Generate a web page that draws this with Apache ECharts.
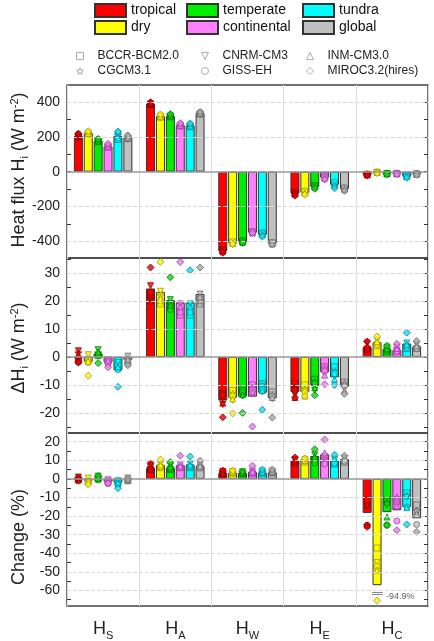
<!DOCTYPE html>
<html>
<head>
<meta charset="utf-8">
<script src="https://cdn.jsdelivr.net/npm/echarts@6/dist/echarts.min.js"></script>
<style>html,body{margin:0;padding:0;background:#fff}#chart{width:434px;height:641px}</style>
</head>
<body>
<div id="chart"></div>
<script>
var categories = ['S', 'A', 'W', 'E', 'C'];
var climates = ['tropical', 'dry', 'temperate', 'continental', 'tundra', 'global'];
var models = ['BCCR-BCM2.0', 'CGCM3.1', 'CNRM-CM3', 'GISS-EH', 'INM-CM3.0', 'MIROC3.2(hires)'];

// panel 1: heat flux (W m-2), one value per category
var fluxTropical = [205, 390, -455, -125, -18];
var fluxDry = [222, 318, -410, -120, -5];
var fluxTemperate = [178, 320, -402, -88, -12];
var fluxContinental = [145, 268, -350, -35, -12];
var fluxTundra = [205, 265, -362, -75, -28];
var fluxGlobal = [197, 335, -412, -100, -14];

// panel 2: delta H (W m-2)
var dhTropical = [-0.5, 24.5, -15.6, -12.5, 3.5];
var dhDry = [-1.7, 23.3, -14.6, -12.5, 5.3];
var dhTemperate = [1.2, 20.3, -14.2, -10.3, 2.8];
var dhContinental = [-1.9, 19.5, -14.2, -5.5, 2.5];
var dhTundra = [-4.8, 19.5, -12.8, -7.3, 4.8];
var dhGlobal = [-1.0, 22.5, -14.8, -10.6, 3.7];

// panel 3: change (%)
var pctTropical = [0, 6, 3.2, 9.8, -18.3];
var pctDry = [-1, 7.5, 3.4, 10.3, -57.2];
var pctTemperate = [0.5, 6, 3.2, 12.3, -17.9];
var pctContinental = [-1.5, 7.3, 3.7, 13.2, -16.9];
var pctTundra = [-2, 7.7, 3.4, 9.8, -15.1];
var pctGlobal = [-0.5, 6.8, 3.6, 10.7, -21.2];

// model values: per category, one value per climate (tropical..global)
var fluxBCCR = [[200, 215, 172, 140, 185, 190], [385, 312, 315, 262, 258, 330], [-450, -405, -398, -345, -355, -408], [-120, -115, -80, -30, -70, -95], [-15, -3, -10, -10, -25, -12]];
var fluxCGCM = [[210, 225, 180, 150, 210, 200], [392, 320, 322, 270, 268, 336], [-458, -412, -404, -352, -362, -414], [-128, -122, -88, -38, -80, -102], [-18, -5, -12, -12, -28, -14]];
var fluxCNRM = [[195, 210, 170, 142, 200, 185], [388, 310, 318, 260, 255, 328], [-462, -418, -410, -355, -368, -420], [-132, -128, -92, -42, -88, -108], [-20, -6, -14, -14, -32, -16]];
var fluxGISS = [[215, 228, 185, 152, 225, 205], [395, 325, 326, 274, 272, 340], [-448, -400, -395, -342, -350, -405], [-118, -110, -78, -28, -60, -92], [-14, -2, -9, -9, -22, -11]];
var fluxINM = [[205, 220, 176, 146, 195, 195], [390, 316, 320, 266, 262, 334], [-455, -410, -402, -348, -360, -412], [-125, -120, -85, -35, -75, -100], [-17, -4, -11, -11, -26, -13]];
var fluxMIROC = [[218, 232, 188, 160, 230, 208], [398, 328, 330, 278, 276, 342], [-465, -415, -408, -352, -372, -418], [-138, -132, -98, -45, -95, -110], [-22, -8, -16, -16, -35, -18]];

var dhBCCR = [[-1.0, -1.0, 0.5, -1.5, -3.0, -1.5], [22, 19, 18, 15, 15, 19], [-13, -12, -12, -10, -9.5, -12.5], [-9.5, -10, -8, -3.5, -3.5, -9], [2.5, 4, 2, 2, 3, 3]];
var dhCGCM = [[1.5, -0.5, 1.5, -2.0, -4.0, -0.5], [21, 22, 19, 17, 17, 20], [-14, -13, -13, -11, -10, -13.5], [-11, -11.5, -9, -4, -5, -9.5], [3.5, 5, 3, 3, 4, 3.5]];
var dhCNRM = [[2.2, 0.8, 2.6, -1.0, -2.0, 0.3], [25.5, 23.5, 20.5, 19, 19, 22.5], [-17, -15.5, -14, -13, -12.5, -15], [-13.5, -13.5, -12, -6, -7, -11], [5, 6, 3.5, 3.5, 5, 4.5]];
var dhGISS = [[-1.8, -2.0, 0.8, -2.5, -4.5, -2.5], [23, 20, 17, 16, 16, 21], [-13.5, -14, -12.5, -12, -11.5, -14], [-12, -12.5, -9.5, -5, -6, -10.5], [3, 4.5, 2.5, 2, 3.5, 3]];
var dhINM = [[0.5, -1.5, 1.8, -1.2, -3.5, -1.0], [20, 21, 18.5, 18, 18, 21.5], [-16.5, -15, -13.5, -12.5, -12, -14.5], [-14.5, -14, -11, -6.5, -8, -12], [4, 5.5, 3, 3, 4.5, 4]];
var dhMIROC = [[-2.0, -6.7, -2.2, -3.7, -10.7, -3.0], [32, 34, 28.5, 34, 31, 32], [-21.6, -20.2, -20, -24.9, -18.9, -21.7], [-14.5, -14, -13.7, -9.8, -10, -13.2], [5.5, 7.3, 4, 4.7, 8.7, 5.7]];

var pctBCCR = [[-0.5, -1.5, 0, -1, -1.5, -1], [5, 6, 5, 6, 6, 6], [2.8, 3, 2.8, 3, 3, 3.2], [8.5, 9, 10, 9, 8, 9], [-11.5, -37.2, -12, -12, -7.5, -14]];
var pctCGCM = [[0.5, -0.5, 1, -2, -2.5, 0], [6, 7, 6, 6.5, 7, 6.5], [3.2, 3.4, 3.2, 3.5, 3.4, 3.6], [9.5, 10, 11, 11, 9.5, 10], [-25, -48, -12.5, -10, -9, -17]];
var pctCNRM = [[1, 0.5, 1.5, -0.5, -1, 0.5], [7.5, 8, 7, 7.5, 8, 7.5], [4, 4, 3.8, 4.2, 4.2, 4.2], [10.5, 10.5, 13, 12, 10.5, 11], [-15, -45, -14, -14, -10, -18]];
var pctGISS = [[-1, -2, -0.5, -2.5, -3, -1], [5.5, 6.5, 5.5, 6, 6.5, 6], [3, 3.2, 3, 3.4, 3.2, 3.4], [9, 9.5, 8.5, 8, 8.5, 9.5], [-25, -47, -24.9, -22.6, -15, -24.5]];
var pctINM = [[0.5, -1, 0.5, -1.5, -2, -0.5], [7, 7.5, 6.5, 7, 7.5, 7], [3.5, 3.8, 3.5, 3.8, 3.8, 4], [10, 10, 12, 14, 11, 11.5], [-14, -49, -20.5, -14.5, -15.5, -19]];
var pctMIROC = [[0.5, -3, 1.5, -2.5, -5, 0], [8.1, 10.4, 9, 12.5, 12, 9.8], [4.5, 4.5, 4, 7.1, 5, 5], [11.5, 11, 15.9, 21.2, 13, 12.5], [-25.8, -94.9, -24.9, -27.6, -24.5, -28.5]];

// tick labels
var fluxLabels = [-400, -200, 0, 200, 400];
var fluxTicks = [-400, -300, -200, -100, 0, 100, 200, 300, 400];
var dhLabels = [-20, -10, 0, 10, 20, 30];
var dhTicks = [-25, -20, -15, -10, -5, 0, 5, 10, 15, 20, 25, 30, 35];
var pctLabels = [-60, -50, -40, -30, -20, -10, 0, 10, 20];
var pctTicks = [-65, -60, -55, -50, -45, -40, -35, -30, -25, -20, -15, -10, -5, 0, 5, 10, 15, 20];

var FONT = 'Liberation Sans, Arial, sans-serif';
var barColors = ['#ff0000', '#ffff00', '#00ee00', '#ff80ff', '#00ffff', '#c0c0c0'];
var markFill = ['#e00000', '#f8f020', '#18d018', '#e080e0', '#20d4e4', '#a8a8a8'];
var markEdge = ['#8a0000', '#a09800', '#007a00', '#a040a0', '#008a9a', '#6a6a6a'];
var starPath = 'path://M0,-10L2.35,-3.24L9.51,-3.09L3.8,1.24L5.88,8.09L0,4L-5.88,8.09L-3.8,1.24L-9.51,-3.09L-2.35,-3.24Z';
var symbols = ['rect', starPath, 'path://M-1,-1L1,-1L0,1Z', 'circle', 'triangle', 'diamond'];

var barW = 9, barGapPx = 0.9, catW = (434 - 67 - 6) / 5;
var step = (barW + barGapPx) / catW;

var panels = [
    {top: 85, height: 173, min: -495, max: 497, labels: fluxLabels, ticks: fluxTicks,
     bars: [fluxTropical, fluxDry, fluxTemperate, fluxContinental, fluxTundra, fluxGlobal],
     models: [fluxBCCR, fluxCGCM, fluxCNRM, fluxGISS, fluxINM, fluxMIROC]},
    {top: 258, height: 175, min: -27.2, max: 35.4, labels: dhLabels, ticks: dhTicks,
     bars: [dhTropical, dhDry, dhTemperate, dhContinental, dhTundra, dhGlobal],
     models: [dhBCCR, dhCGCM, dhCNRM, dhGISS, dhINM, dhMIROC]},
    {top: 433, height: 174, min: -68.4, max: 24.7, labels: pctLabels, ticks: pctTicks, breakAt: -65.5,
     bars: [pctTropical, pctDry, pctTemperate, pctContinental, pctTundra, pctGlobal],
     models: [pctBCCR, pctCGCM, pctCNRM, pctGISS, pctINM, pctMIROC]}
];

var grid = [], xAxis = [], yAxis = [], series = [];

panels.forEach(function (p, i) {
    grid.push({left: 67, right: 6, top: p.top, height: p.height, show: true,
        borderColor: '#444', borderWidth: 1.5, backgroundColor: 'transparent'});
    xAxis.push({
        type: 'category', gridIndex: i, data: categories,
        axisLine: {show: false, onZero: false}, axisTick: {show: false},
        axisLabel: i === 2 ? {
            margin: 12, interval: 0,
            formatter: function (v) { return '{h|H}{s|' + v + '}'; },
            rich: {
                h: {fontSize: 18, fontFamily: FONT, color: '#222'},
                s: {fontSize: 11, fontFamily: FONT, color: '#222', padding: [12, 0, 0, 0]}
            }
        } : {show: false},
        splitLine: {show: true, interval: 0, lineStyle: {color: '#dcdcdc', width: 1}}
    });
    xAxis.push({type: 'value', gridIndex: i, min: -0.5, max: 4.5, show: false, axisLine: {onZero: false}});
    yAxis.push({
        type: 'value', gridIndex: i, min: p.min, max: p.max,
        axisLine: {show: false, onZero: false}, splitLine: {show: false},
        axisTick: {show: true, inside: true, length: 4, customValues: p.ticks, lineStyle: {color: '#333'}},
        axisLabel: {customValues: p.labels, fontSize: 14, color: '#222', fontFamily: FONT, margin: 7}
    });
    yAxis.push({
        type: 'value', gridIndex: i, position: 'right', min: p.min, max: p.max,
        axisLine: {show: false, onZero: false}, splitLine: {show: false}, axisLabel: {show: false},
        axisTick: {show: true, inside: true, length: 4, customValues: p.ticks, lineStyle: {color: '#333'}}
    });

    // grid lines and zero line
    series.push({
        type: 'line', xAxisIndex: 2 * i, yAxisIndex: 2 * i, data: [], silent: true, z: 1,
        markLine: {
            silent: true, symbol: 'none', label: {show: false}, animation: false,
            data: p.labels.map(function (v) {
                return {yAxis: v, lineStyle: v === 0 ?
                    {type: 'solid', color: '#999', width: 1.5} :
                    {type: 'dashed', color: '#d8d8d8', width: 1}};
            })
        }
    });

    p.bars.forEach(function (vals, k) {
        series.push({
            type: 'bar', name: climates[k], xAxisIndex: 2 * i, yAxisIndex: 2 * i,
            data: vals, barWidth: barW, barGap: '10%', z: 2,
            itemStyle: {color: barColors[k], borderColor: '#333', borderWidth: 1}
        });
    });

    p.models.forEach(function (byCat, m) {
        var data = [];
        var breakLines = [];
        byCat.forEach(function (vals, c) {
            vals.forEach(function (v, k) {
                var x = c + (k - 2.5) * step;
                var item = {
                    value: [x, v],
                    itemStyle: {
                        color: m === 5 ? markFill[k] : barColors[k],
                        borderColor: markEdge[k], borderWidth: 1
                    }
                };
                if (p.breakAt !== undefined && v < p.min) {
                    item.value = [x, p.breakAt];
                    item.label = {show: true, position: 'right', offset: [0, -4],
                        formatter: v + '%', fontSize: 9, color: '#333', fontFamily: FONT};
                    breakLines.push([{coord: [x - 0.07, p.breakAt + 3.2]}, {coord: [x + 0.08, p.breakAt + 3.2]}]);
                    breakLines.push([{coord: [x - 0.07, p.breakAt + 4.4]}, {coord: [x + 0.08, p.breakAt + 4.4]}]);
                }
                data.push(item);
            });
        });
        var s = {
            type: 'scatter', name: models[m], xAxisIndex: 2 * i + 1, yAxisIndex: 2 * i,
            symbol: symbols[m], symbolSize: m === 5 ? 7 : (m === 1 ? 7 : 6), z: 3, data: data
        };
        if (breakLines.length) {
            s.markLine = {silent: true, symbol: 'none', label: {show: false},
                lineStyle: {type: 'solid', color: '#888', width: 1}, data: breakLines};
        }
        series.push(s);
    });
});

var legendText = {fontSize: 14, fontFamily: FONT, color: '#111'};
var modelText = {fontSize: 12, fontFamily: FONT, color: '#222', padding: [0, 0, 0, 9]};
function climateLegend(left, names) {
    return {orient: 'vertical', left: left, top: 3, itemWidth: 31, itemHeight: 13, itemGap: 2,
        icon: 'rect', selectedMode: false, textStyle: legendText, padding: 0, data: names};
}
function modelLegend(left, idx) {
    return {orient: 'vertical', left: left, top: 50, itemWidth: 7, itemHeight: 7, itemGap: 3,
        selectedMode: false, textStyle: modelText, padding: 0,
        data: idx.map(function (m) {
            return {name: models[m], icon: symbols[m],
                itemStyle: {color: '#fff', borderColor: '#999', borderWidth: 1}};
        })};
}

function yName(x, y, text) {
    return {
        type: 'text', x: x, y: y, rotation: Math.PI / 2,
        style: {
            text: text, align: 'center', verticalAlign: 'middle',
            fontSize: 18, fontFamily: FONT, fill: '#222',
            rich: {
                n: {fontSize: 18, fontFamily: FONT, fill: '#222'},
                sub: {fontSize: 11, fontFamily: FONT, fill: '#222', padding: [11, 0, 0, 0]},
                sup: {fontSize: 11, fontFamily: FONT, fill: '#222', padding: [0, 0, 9, 0]}
            }
        }
    };
}

var chart = echarts.init(document.getElementById('chart'));
chart.setOption({
    animation: false,
    legend: [
        climateLegend(94, ['tropical', 'dry']),
        climateLegend(186, ['temperate', 'continental']),
        climateLegend(302, ['tundra', 'global']),
        modelLegend(76, [0, 1]),
        modelLegend(201, [2, 3]),
        modelLegend(306, [4, 5])
    ],
    grid: grid,
    xAxis: xAxis,
    yAxis: yAxis,
    series: series,
    graphic: [
        yName(19, 170, '{n|Heat flux H}{sub|i}{n| (W m}{sup|-2}{n|)}'),
        yName(19, 348, '{n|\u0394H}{sub|i}{n| (W m}{sup|-2}{n|)}'),
        yName(19, 537, '{n|Change (%)}')
    ]
});
</script>
</body>
</html>
